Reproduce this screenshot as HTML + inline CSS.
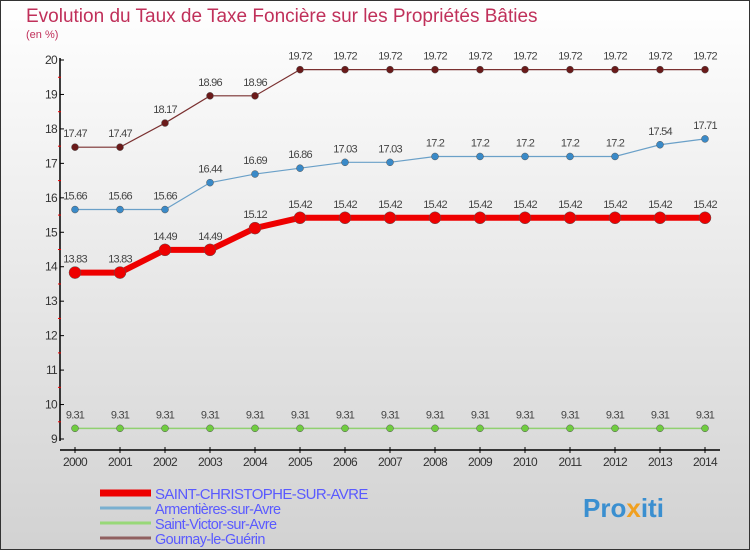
<!DOCTYPE html>
<html><head><meta charset="utf-8"><style>
html,body{margin:0;padding:0}
body{width:750px;height:550px;overflow:hidden;font-family:"Liberation Sans",sans-serif}
</style></head><body>
<svg width="750" height="550" xmlns="http://www.w3.org/2000/svg" id="chart">
<defs><linearGradient id="bg" x1="0" y1="0" x2="0" y2="1"><stop offset="0" stop-color="#ffffff"/><stop offset="1" stop-color="#d2d2d2"/></linearGradient></defs>
<rect x="0.5" y="0.5" width="749" height="549" fill="url(#bg)" stroke="#333"/>
<text x="26" y="22" font-size="19" fill="#c0305a">Evolution du Taux de Taxe Foncière sur les Propriétés Bâties</text>
<text x="26" y="38" font-size="11" fill="#c0305a">(en %)</text>
<g id="axes"></g><g id="series"></g><g id="legend"></g>
<text x="583" y="517" font-size="26" font-weight="bold" fill="#3a8fd0">Pro<tspan fill="#f0a020">x</tspan>iti</text>
</svg>
<script>
const years=[2000,2001,2002,2003,2004,2005,2006,2007,2008,2009,2010,2011,2012,2013,2014];
const yTicks=[9,10,11,12,13,14,15,16,17,18,19,20];
const saintChristophe=[13.83,13.83,14.49,14.49,15.12,15.42,15.42,15.42,15.42,15.42,15.42,15.42,15.42,15.42,15.42];
const armentieres=[15.66,15.66,15.66,16.44,16.69,16.86,17.03,17.03,17.2,17.2,17.2,17.2,17.2,17.54,17.71];
const saintVictor=[9.31,9.31,9.31,9.31,9.31,9.31,9.31,9.31,9.31,9.31,9.31,9.31,9.31,9.31,9.31];
const gournay=[17.47,17.47,18.17,18.96,18.96,19.72,19.72,19.72,19.72,19.72,19.72,19.72,19.72,19.72,19.72];
const seriesNames=["SAINT-CHRISTOPHE-SUR-AVRE","Armentières-sur-Avre","Saint-Victor-sur-Avre","Gournay-le-Guérin"];
const NS="http://www.w3.org/2000/svg";
const xs=i=>75+i*45;
const ys=v=>439-(v-9)*(379/11);
function mk(t,a,p){const e=document.createElementNS(NS,t);for(const k in a)e.setAttribute(k,a[k]);p.appendChild(e);return e;}
const ax=document.getElementById('axes');
let l=mk('line',{x1:60,y1:58,x2:60,y2:441,stroke:'#000','stroke-width':1.5},ax);


l=mk('line',{x1:60,y1:450,x2:720,y2:450,stroke:'#000','stroke-width':1.5},ax);


yTicks.forEach((t,i)=>{const y=ys(t);mk('line',{x1:60,y1:y,x2:64,y2:y,stroke:'#000'},ax);
if(i<yTicks.length-1)mk('line',{x1:58,y1:y-17.2,x2:61,y2:y-17.2,stroke:'#e00'},ax);
const tx=mk('text',{x:57,y:y+4,'font-size':12,'text-anchor':'end',fill:'#333','letter-spacing':'-0.7'},ax);tx.textContent=t;

});
years.forEach((yr,i)=>{const x=xs(i);mk('line',{x1:x,y1:447,x2:x,y2:453,stroke:'#000'},ax);
const tx=mk('text',{x:x,y:466,'font-size':12,'text-anchor':'middle',fill:'#333','letter-spacing':'-0.7'},ax);tx.textContent=yr;

});
const sg=document.getElementById('series');
function draw(vals,color,dot,w,r,name){const g=mk('g',{},sg);


mk('polyline',{points:vals.map((v,i)=>xs(i)+','+ys(v)).join(' '),fill:'none',stroke:color,'stroke-width':w},g);
vals.forEach((v,i)=>{const c=mk('circle',{cx:xs(i),cy:ys(v),r:r,fill:dot,stroke:'#555','stroke-width':0.5},g);


const t=mk('text',{x:xs(i),y:ys(v)-10,'font-size':11,'text-anchor':'middle',fill:'#444','letter-spacing':'-0.8'},g);t.textContent=v;});}
draw(gournay,'#7a3030','#6a1a1a',1.2,3.5,'series-gournay');
draw(armentieres,'#6aa0c8','#3a8ac8',1.2,3.5,'series-armentieres');
draw(saintVictor,'#90d070','#70cc40',1.5,3.5,'series-saint-victor');
draw(saintChristophe,'#ee0000','#ee0000',6,6,'series-saint-christophe');
const lg=document.getElementById('legend');
const lc=['#ee0000','#7ab0d0','#98d878','#906060'],lw=[7,3,3,3];
seriesNames.forEach((n,i)=>{const y=493+i*15;const g=mk('g',{},lg);


mk('line',{x1:100,y1:y,x2:151,y2:y,stroke:lc[i],'stroke-width':lw[i]},g);
const t=mk('text',{x:155,y:y+6,'font-size':i==0?15:14.5,fill:'#5a5aff','letter-spacing':'-0.6'},g);t.textContent=n;});
</script>
</body></html>
